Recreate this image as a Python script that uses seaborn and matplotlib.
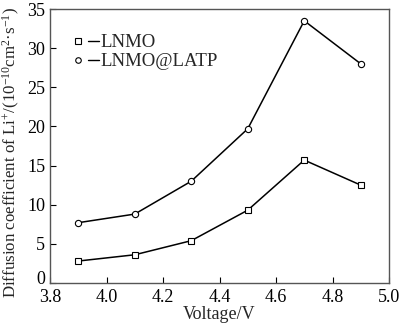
import matplotlib
matplotlib.use("Agg")
import matplotlib.pyplot as plt
import matplotlib.transforms as mtransforms
import seaborn as sns
import pandas as pd
from matplotlib.lines import Line2D
from matplotlib.legend_handler import HandlerTuple

voltage = [3.9, 4.1, 4.3, 4.5, 4.7, 4.9]
lnmo = [2.8, 3.6, 5.4, 9.3, 15.7, 12.5]
lnmo_latp = [7.7, 8.8, 13.0, 19.7, 33.5, 28.0]
series_names = ["LNMO", "LNMO@LATP"]
xticks = [3.8, 4.0, 4.2, 4.4, 4.6, 4.8, 5.0]
yticks = [0, 5, 10, 15, 20, 25, 30, 35]

sns.set_style("ticks")
plt.rcParams["font.family"] = ["Liberation Serif", "DejaVu Serif"]
plt.rcParams["mathtext.fontset"] = "custom"
plt.rcParams["mathtext.rm"] = "Liberation Serif"
plt.rcParams["mathtext.it"] = "Liberation Serif:italic"

df = pd.DataFrame({
    "Voltage": voltage * 2,
    "D": lnmo + lnmo_latp,
    "Sample": [series_names[0]] * len(voltage) + [series_names[1]] * len(voltage),
})

fig = plt.figure(figsize=(4.0, 3.23), dpi=100)
ax = fig.add_axes([0.125, 0.124, 0.8475, 0.848])
sns.lineplot(data=df, x="Voltage", y="D", style="Sample", markers=["s", "o"],
             dashes=False, color="black", linewidth=1.1, markersize=4.5,
             markerfacecolor="white", markeredgecolor="black", markeredgewidth=0.8,
             ax=ax, legend=False)

ax.set_xlim(3.8, 5.0)
ax.set_ylim(0, 35)
ax.set_xticks(xticks)
ax.set_yticks(yticks)
ax.set_xticklabels([f"{t:.1f}" for t in xticks])
ax.tick_params(direction="in", length=4, width=0.8, labelsize=13, colors="black")
ax.tick_params(axis="x", pad=4)
ax.tick_params(axis="y", pad=3.5)
for s in ax.spines.values():
    s.set_color("#555555")
    s.set_linewidth(1.0)
ax.set_xlabel("Voltage/V", fontsize=13, labelpad=0)
ax.set_ylabel("Diffusion coefficient of Li$^{+}$/(10$^{-10}$cm$^{2}$·s$^{-1}$)",
              fontsize=12.2)
ax.yaxis.set_label_coords(-0.082, 0.475)

# nudge the "0" label upward slightly, as in the reference
zero_lbl = ax.get_yticklabels()[0]
zero_lbl.set_transform(zero_lbl.get_transform() +
                       mtransforms.ScaledTranslation(0, 4 / 72, fig.dpi_scale_trans))

handles = []
for m in ["s", "o"]:
    mk = Line2D([], [], marker=m, linestyle="none", markersize=4, markerfacecolor="white",
                markeredgecolor="black", markeredgewidth=0.8)
    ln = Line2D([], [], color="black", linewidth=1.0)
    handles.append((mk, ln))
ax.legend(handles, series_names, handler_map={tuple: HandlerTuple(ndivide=None, pad=0.2)},
          loc="upper left", bbox_to_anchor=(0.045, 0.935), frameon=False, fontsize=13.5,
          handlelength=1.4, handletextpad=0.1, labelspacing=0.08, borderaxespad=0)

fig.savefig("out.png", dpi=100)
